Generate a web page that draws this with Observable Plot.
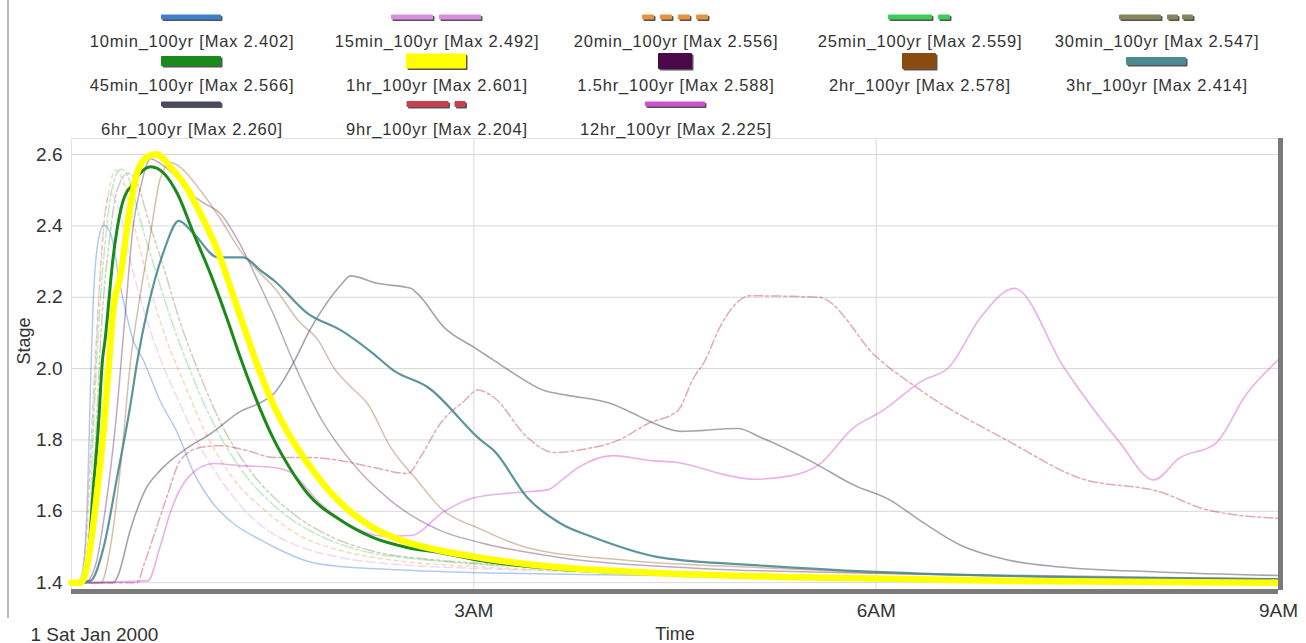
<!DOCTYPE html>
<html><head><meta charset="utf-8">
<script src="https://cdn.jsdelivr.net/npm/d3@7"></script>
<script src="https://cdn.jsdelivr.net/npm/@observablehq/plot@0.6"></script>
<style>
body{margin:0;background:#fff;font-family:"Liberation Sans",Arial,sans-serif;}
#wrap{position:relative;width:1306px;height:643px;overflow:hidden;background:#fff;}
#legend{position:absolute;left:0;top:0;width:1306px;height:140px;z-index:2;}
.sw{position:absolute;transform:translate(-50%,-50%);overflow:visible;}
.lab{position:absolute;transform:translate(-50%,-50%);white-space:nowrap;font-size:16.5px;letter-spacing:0.8px;color:#333;}
#chart{position:absolute;left:0;top:130px;z-index:1;}
#vline{position:absolute;left:7px;top:0;width:2px;height:618px;background:#b8b8b8;z-index:3;}
</style></head>
<body><div id="wrap"><div id="vline"></div><div id="legend"></div><div id="chart"></div></div>
<script>
// ---------- data (hours since 00:00 1 Jan 2000, stage) ----------
const seriesNames = ["10min_100yr","15min_100yr","20min_100yr","25min_100yr","30min_100yr",
  "45min_100yr","1hr_100yr","1.5hr_100yr","2hr_100yr","3hr_100yr",
  "6hr_100yr","9hr_100yr","12hr_100yr"];
const seriesMax = [2.402,2.492,2.556,2.559,2.547,2.566,2.601,2.588,2.578,2.414,2.260,2.204,2.225];

const t10min = [[0,1.40],[0.05,1.40],[0.09,1.45],[0.12,1.65],[0.14,1.93],[0.16,2.17],[0.20,2.36],[0.24,2.402],[0.29,2.38],[0.37,2.22],[0.46,2.08],[0.54,2.02],[0.66,1.91],[0.79,1.82],[0.91,1.71],[1.06,1.62],[1.21,1.565],[1.41,1.52],[1.51,1.50],[1.76,1.46],[2.01,1.445],[2.51,1.435],[3.05,1.428],[3.95,1.422],[5.44,1.415],[6.93,1.41],[9,1.405]];
const t15min = [[0,1.40],[0.07,1.40],[0.10,1.50],[0.14,1.75],[0.18,2.05],[0.22,2.30],[0.25,2.44],[0.29,2.492],[0.35,2.45],[0.44,2.30],[0.55,2.15],[0.66,2.03],[0.81,1.90],[0.96,1.78],[1.11,1.69],[1.30,1.60],[1.49,1.54],[1.71,1.50],[2.01,1.47],[2.46,1.45],[3.0,1.44],[3.95,1.43],[5.44,1.42],[6.93,1.41],[9,1.405]];
const t20min = [[0,1.40],[0.075,1.40],[0.11,1.50],[0.15,1.80],[0.19,2.10],[0.23,2.35],[0.28,2.50],[0.33,2.556],[0.39,2.52],[0.48,2.38],[0.59,2.22],[0.70,2.09],[0.85,1.95],[1.0,1.82],[1.19,1.70],[1.45,1.60],[1.71,1.53],[2.01,1.49],[2.46,1.46],[3.0,1.445],[3.95,1.43],[5.44,1.42],[6.93,1.41],[9,1.405]];
const t25min = [[0,1.40],[0.08,1.40],[0.13,1.50],[0.16,1.80],[0.20,2.10],[0.25,2.35],[0.30,2.50],[0.37,2.559],[0.43,2.53],[0.51,2.42],[0.63,2.27],[0.74,2.14],[0.89,1.99],[1.04,1.86],[1.26,1.72],[1.56,1.60],[1.86,1.53],[2.16,1.49],[2.60,1.465],[3.0,1.452],[3.95,1.435],[5.44,1.42],[6.93,1.41],[9,1.403]];
const t30min = [[0,1.40],[0.09,1.40],[0.13,1.50],[0.18,1.80],[0.22,2.10],[0.28,2.35],[0.34,2.50],[0.42,2.547],[0.49,2.52],[0.57,2.42],[0.69,2.28],[0.81,2.13],[0.96,1.98],[1.11,1.85],[1.34,1.71],[1.63,1.60],[1.93,1.53],[2.23,1.49],[2.68,1.465],[3.0,1.455],[3.95,1.437],[5.44,1.42],[6.93,1.41],[9,1.402]];
const t45min = [[0,1.40],[0.07,1.405],[0.13,1.50],[0.16,1.65],[0.20,1.835],[0.23,2.02],[0.25,2.08],[0.31,2.31],[0.37,2.45],[0.42,2.50],[0.44,2.508],[0.51,2.547],[0.59,2.566],[0.69,2.547],[0.79,2.49],[0.91,2.379],[1.04,2.262],[1.16,2.14],[1.26,2.03],[1.36,1.93],[1.51,1.80],[1.63,1.72],[1.76,1.65],[2.01,1.574],[2.25,1.526],[2.51,1.498],[2.75,1.484],[3.05,1.462],[3.57,1.44],[4.32,1.425],[5.44,1.413],[6.93,1.405],[9,1.40]];
const t1hr = [[0,1.40],[0.07,1.40],[0.14,1.50],[0.19,1.65],[0.24,1.83],[0.28,2.02],[0.31,2.16],[0.37,2.27],[0.42,2.41],[0.49,2.55],[0.57,2.595],[0.63,2.601],[0.74,2.564],[0.87,2.50],[0.96,2.435],[1.09,2.33],[1.21,2.20],[1.31,2.09],[1.41,1.985],[1.51,1.895],[1.63,1.81],[1.76,1.735],[2.01,1.622],[2.25,1.554],[2.51,1.512],[2.75,1.49],[3.05,1.47],[3.57,1.445],[4.32,1.428],[5.44,1.415],[6.93,1.405],[9,1.40]];
const t1_5hr = [[0,1.40],[0.10,1.40],[0.18,1.45],[0.25,1.60],[0.33,1.85],[0.40,2.15],[0.46,2.40],[0.51,2.50],[0.59,2.588],[0.66,2.575],[0.76,2.545],[0.89,2.49],[0.99,2.463],[1.11,2.435],[1.24,2.36],[1.41,2.23],[1.52,2.14],[1.63,2.04],[1.86,1.86],[2.08,1.742],[2.38,1.63],[2.75,1.546],[3.05,1.512],[3.65,1.47],[4.69,1.44],[6.19,1.425],[9,1.41]];
const t2hr = [[0,1.40],[0.22,1.40],[0.29,1.50],[0.37,1.74],[0.44,2.02],[0.51,2.20],[0.59,2.38],[0.66,2.53],[0.74,2.578],[0.81,2.565],[0.96,2.50],[1.11,2.42],[1.26,2.33],[1.40,2.27],[1.51,2.228],[1.69,2.135],[1.84,2.079],[1.96,2.0],[2.08,1.95],[2.21,1.90],[2.38,1.779],[2.58,1.686],[2.75,1.61],[3.05,1.55],[3.40,1.498],[4.15,1.462],[5.14,1.442],[6.19,1.425],[9,1.41]];
const t3hr = [[0,1.40],[0.14,1.405],[0.24,1.50],[0.34,1.695],[0.44,1.90],[0.49,2.02],[0.57,2.171],[0.69,2.331],[0.80,2.414],[0.91,2.379],[1.09,2.312],[1.28,2.312],[1.41,2.275],[1.51,2.247],[1.76,2.155],[2.01,2.107],[2.25,2.042],[2.40,1.995],[2.66,1.947],[3.05,1.80],[3.15,1.77],[3.40,1.638],[3.65,1.565],[3.90,1.526],[4.40,1.47],[5.14,1.448],[6.0,1.43],[7.52,1.415],[9,1.41]];
const t6hr = [[0,1.40],[0.31,1.40],[0.34,1.414],[0.44,1.55],[0.55,1.66],[0.66,1.714],[0.87,1.779],[1.04,1.818],[1.26,1.88],[1.41,1.905],[1.51,1.93],[1.58,1.967],[1.66,2.02],[1.78,2.11],[1.88,2.171],[2.01,2.235],[2.08,2.26],[2.28,2.239],[2.53,2.225],[2.58,2.21],[2.78,2.115],[3.0,2.06],[3.15,2.023],[3.30,1.986],[3.52,1.939],[3.70,1.925],[4.02,1.902],[4.19,1.874],[4.30,1.854],[4.54,1.824],[4.97,1.832],[5.14,1.807],[5.54,1.735],[5.83,1.674],[6.10,1.632],[6.34,1.571],[6.63,1.505],[6.99,1.463],[7.37,1.444],[8.11,1.43],[9,1.42]];
const t9hr = [[0,1.40],[0.49,1.40],[0.54,1.45],[0.63,1.55],[0.72,1.65],[0.81,1.742],[0.96,1.779],[1.11,1.784],[1.31,1.77],[1.51,1.751],[1.76,1.751],[2.01,1.742],[2.25,1.723],[2.51,1.706],[2.60,1.751],[2.75,1.846],[2.93,1.91],[3.03,1.94],[3.15,1.919],[3.40,1.807],[3.60,1.765],[3.85,1.776],[4.07,1.798],[4.30,1.846],[4.52,1.882],[4.64,1.975],[4.72,2.02],[4.84,2.12],[5.06,2.204],[5.57,2.20],[6.01,2.03],[6.34,1.937],[6.99,1.796],[7.52,1.693],[8.11,1.655],[8.47,1.604],[9,1.58]];
const t12hr = [[0,1.40],[0.57,1.405],[0.66,1.50],[0.74,1.60],[0.87,1.695],[1.06,1.734],[1.26,1.728],[1.51,1.723],[1.63,1.71],[1.86,1.62],[2.08,1.56],[2.33,1.53],[2.53,1.532],[2.78,1.60],[3.0,1.638],[3.30,1.652],[3.55,1.66],[3.65,1.686],[3.78,1.723],[4.04,1.756],[4.32,1.742],[4.52,1.737],[4.90,1.70],[5.09,1.69],[5.37,1.70],[5.57,1.73],[5.83,1.834],[6.04,1.88],[6.34,1.965],[6.54,2.003],[6.78,2.144],[7.03,2.225],[7.40,2.003],[7.81,1.796],[8.07,1.688],[8.26,1.749],[8.53,1.79],[8.76,1.928],[9,2.025]];

const seriesData = [t10min,t15min,t20min,t25min,t30min,t45min,t1hr,t1_5hr,t2hr,t3hr,t6hr,t9hr,t12hr];

const xTickValues = [3,6,9];
const xTickLabels = ["3AM","6AM","9AM"];
const yTickValues = [1.4,1.6,1.8,2.0,2.2,2.4,2.6];
const dateLabel = "1 Sat Jan 2000";
const xLabel = "Time";
const yLabel = "Stage";

// ---------- styles ----------
const seriesColor = ["#3a7fd0","#d98ee0","#e8923a","#3ccc5a","#86865a","#1a8a1a","#ffff00","#4a0a4a","#8a4a10","#4a8a90","#4a4a60","#c84050","#d050d0"];
const seriesDash  = [null,"9,4","4,4","12,3,3,3","12,3,3,3,3,3",null,null,null,null,null,null,"9,3,3,3",null];
const seriesWidth = [1.5,1.5,1.5,1.5,1.5,3,6.5,1.5,1.5,2.2,1.6,1.5,1.6];
const seriesOpac  = [0.4,0.35,0.35,0.35,0.4,1,1,0.35,0.35,0.9,0.5,0.45,0.45];
// legend swatch: [segments [offset,width]], bar height
const swatchSegs = [[[0,60]],[[0,42],[48,42]],[[0,12],[18,12],[36,12],[54,12]],[[0,44],[50,12]],[[0,42],[48,11],[63,11]],
  [[0,60]],[[0,60]],[[0,34]],[[0,34]],[[0,60]],[[0,60]],[[0,42],[48,11]],[[0,60]]];
const swatchH = [5,5,5,5,5,10,15,16,16,8,5,6,5];
const colCenters = [192,437,676,920,1157];
const rowSwatchY = [18,62,105];
const rowLabelY = [41,85,129];

// ---------- legend ----------
const legend = document.getElementById("legend");
seriesNames.forEach((name,i)=>{
  const col = i%5, row = Math.floor(i/5);
  const segs = swatchSegs[i];
  const w = d3.max(segs, s=>s[0]+s[1]), h = swatchH[i];
  const svg = d3.create("svg").attr("class","sw").attr("width",w+2).attr("height",h+2)
    .style("left",colCenters[col]+"px").style("top",rowSwatchY[row]+"px");
  segs.forEach(([o,sw])=>{
    svg.append("rect").attr("x",o+1.5).attr("y",1.5).attr("width",sw).attr("height",h).attr("rx",1).attr("fill","#555");
    svg.append("rect").attr("x",o).attr("y",0).attr("width",sw).attr("height",h).attr("rx",1).attr("fill",seriesColor[i]);
  });
  legend.appendChild(svg.node());
  const lab = document.createElement("div");
  lab.className="lab";
  lab.textContent = `${name} [Max ${seriesMax[i].toFixed(3)}]`;
  lab.style.left = colCenters[col]+"px"; lab.style.top = rowLabelY[row]+"px";
  legend.appendChild(lab);
});

// ---------- chart ----------
const table = seriesData.flatMap((arr,i)=>arr.map(([h,s])=>({series:seriesNames[i], i, h, s})));
const drawOrder = [0,1,2,3,4,7,8,10,11,12,9,5,6];
const lineMarks = drawOrder.map(i=>Plot.line(table.filter(d=>d.i===i),{
  x:"h", y:"s", stroke:seriesColor[i], strokeWidth:seriesWidth[i], strokeOpacity:seriesOpac[i],
  strokeDasharray:seriesDash[i]||undefined, curve:"monotone-x"}));

const yMin = 1.378, yMax = 2.645;
const chart = Plot.plot({
  width:1306, height:513,
  marginTop:8, marginBottom:53, marginLeft:71, marginRight:28,
  x:{domain:[0,9], label:null},
  y:{domain:[yMin,yMax], label:null},
  style:{fontFamily:"'Liberation Sans', Arial, sans-serif", fontSize:"19px", color:"#333", background:"transparent"},
  marks:[
    Plot.gridY(yTickValues,{stroke:"#d8d8d8", strokeOpacity:1}),
    Plot.gridX(xTickValues.slice(0,2),{stroke:"#d8d8d8", strokeOpacity:1}),
    Plot.frame({stroke:"#e2e2e2"}),
    ...lineMarks,
    Plot.ruleY([yMin],{stroke:"#7a7a7a", strokeWidth:5, dy:1}),
    Plot.ruleX([9],{stroke:"#7a7a7a", strokeWidth:5, dx:2}),
    Plot.axisX({ticks:xTickValues, tickFormat:d=>xTickLabels[xTickValues.indexOf(d)], tickSize:0, tickPadding:13, label:null}),
    Plot.axisY({ticks:yTickValues, tickFormat:d=>d.toFixed(1), tickSize:0, tickPadding:9, label:null}),
    Plot.text([xLabel],{text:d=>d, frameAnchor:"bottom", lineAnchor:"bottom", dy:49, fill:"#333", fontSize:18}),
    Plot.text([yLabel],{text:d=>d, frameAnchor:"left", rotate:-90, dx:-47, fill:"#333", fontSize:18}),
    Plot.text([dateLabel],{text:d=>d, frameAnchor:"bottom-left", textAnchor:"start", lineAnchor:"bottom",
      dx:-41, dy:50, fill:"#333"})
  ]
});
document.getElementById("chart").appendChild(chart);
</script></body></html>
